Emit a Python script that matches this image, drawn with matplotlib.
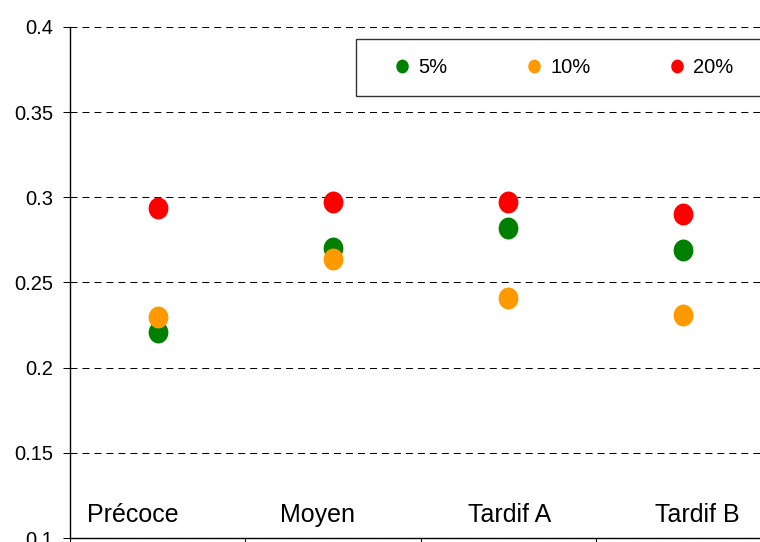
import numpy as np
import matplotlib
matplotlib.use("Agg")
import matplotlib.pyplot as plt
from matplotlib.path import Path
from matplotlib.patches import Rectangle
from matplotlib.lines import Line2D
import matplotlib.ticker as mticker

plt.rcParams["font.family"] = ["Liberation Sans", "DejaVu Sans"]

categories = ["Précoce", "Moyen", "Tardif A", "Tardif B"]
series_names = ["5%", "10%", "20%"]
vals_5 = [0.221, 0.270, 0.282, 0.269]
vals_10 = [0.230, 0.264, 0.241, 0.231]
vals_20 = [0.294, 0.297, 0.297, 0.290]
colors = ["#008000", "#FF9900", "#FF0000"]

# the category captions sit a little off the point columns in the original
label_shift = [-0.14, -0.085, 0.011, 0.078]

W, H = 760, 542
fig = plt.figure(figsize=(W / 100, H / 100), dpi=100)
ax = fig.add_axes([70 / W, 4 / H, 701 / W, 511 / H])

# slightly tall ellipse marker, like the original
circ = Path.unit_circle()
ellipse = Path(circ.vertices * np.array([0.9, 1.0]), circ.codes)

x = np.arange(len(categories))
for vals, name, c in zip([vals_5, vals_10, vals_20], series_names, colors):
    ax.plot(x, vals, linestyle="none", marker=ellipse, ms=15.8,
            color=c, markeredgewidth=0, label=name, zorder=3)

ax.set_xlim(-0.5, len(categories) - 0.5)
ax.set_ylim(0.1, 0.4)
ax.yaxis.set_major_locator(mticker.MultipleLocator(0.05))
ax.yaxis.set_major_formatter(mticker.FormatStrFormatter("%g"))
ax.tick_params(axis="y", direction="out", length=5, width=0.75,
               labelsize=14.5, pad=7)

# category boundaries as ticks on the bottom axis
ax.set_xticks(np.arange(len(categories) + 1) - 0.5)
ax.set_xticklabels([])
ax.tick_params(axis="x", direction="out", length=5, width=0.75)

ax.grid(axis="y", color="black", linewidth=0.75, linestyle=(0, (6.7, 4.8)))
ax.set_axisbelow(True)
for s in ["top", "right"]:
    ax.spines[s].set_visible(False)
for s in ["left", "bottom"]:
    ax.spines[s].set_linewidth(1.0)

for xi, dx, cat in zip(x, label_shift, categories):
    ax.text(xi + dx, 0.1094, cat, ha="center", va="baseline", fontsize=18)

# legend
handles = [Line2D([], [], linestyle="none", marker=ellipse, ms=10,
                  color=c, markeredgewidth=0) for c in colors]
fig.legend(handles, series_names, loc="center", ncol=3,
           bbox_to_anchor=(564 / W, 1 - 67.5 / H), frameon=False,
           fontsize=14.5, handlelength=0.8, handletextpad=0.4,
           columnspacing=3.9, borderpad=0)
fig.patches.append(Rectangle((356 / W, 1 - 96 / H), 1.05 - 356 / W, 57 / H,
                             transform=fig.transFigure, fill=False,
                             edgecolor="#333333", linewidth=1.0))

fig.savefig("out.png", dpi=100)
